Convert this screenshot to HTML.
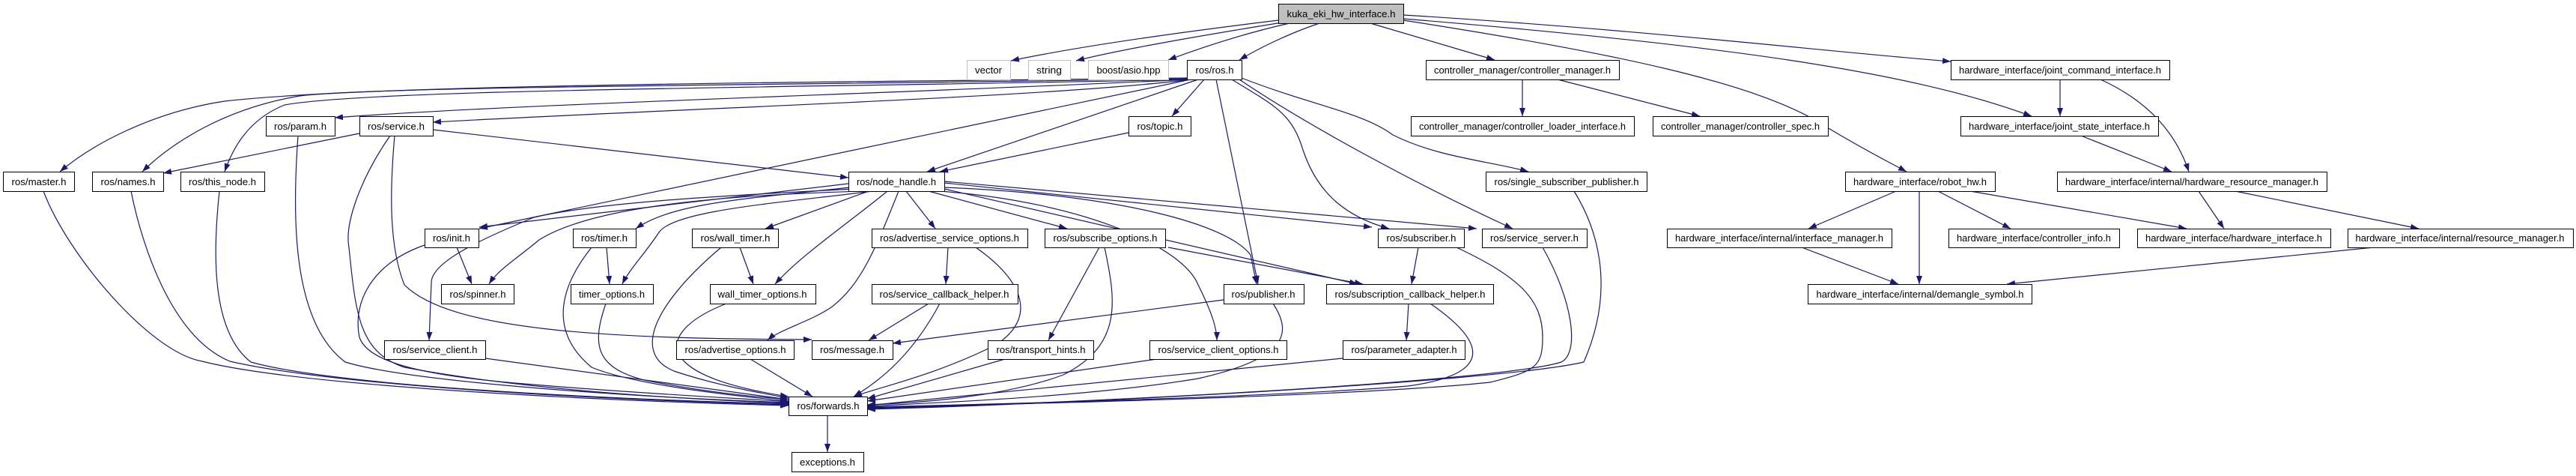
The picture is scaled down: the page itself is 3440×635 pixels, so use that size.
<!DOCTYPE html>
<html><head><meta charset="utf-8"><style>
html,body{margin:0;padding:0;background:#fff;width:3440px;height:635px;overflow:hidden}
text{font-family:"Liberation Sans",sans-serif;font-size:13px;fill:#000}
</style></head><body>
<svg width="3440" height="635" viewBox="0 0 3440 635" xmlns="http://www.w3.org/2000/svg">
<defs><marker id="a" markerUnits="userSpaceOnUse" markerWidth="11" markerHeight="8" refX="11" refY="4" orient="auto"><path d="M0,0 L11,4 L0,8 z" fill="#191970"/></marker></defs>
<g fill="none" stroke="#191970" stroke-width="1.2" marker-end="url(#a)">
<path d="M1707,27 C1600,40 1450,60 1350,81"/>
<path d="M1712,30 C1620,45 1500,65 1437,81"/>
<path d="M1722,31 C1660,45 1600,65 1560,80"/>
<path d="M1762,31 C1720,45 1680,65 1655,80"/>
<path d="M1830,31 L1996,80"/>
<path d="M1874,20 C2200,40 2450,70 2605,82"/>
<path d="M1874,25 C2300,60 2550,95 2713,155"/>
<path d="M1874,27 C2150,70 2350,110 2440,170 C2490,200 2520,215 2546,229"/>
<path d="M1585,104 C1100,110 500,112 300,135 C200,150 120,195 80,229"/>
<path d="M1585,105 C1100,113 500,115 400,128 C300,145 230,190 190,229"/>
<path d="M1587,106 C1100,117 500,118 380,140 C330,160 310,200 300,229"/>
<path d="M1587,106 C1200,125 700,138 447,157"/>
<path d="M1590,106 C1400,130 900,145 578,163"/>
<path d="M1590,106 L640,305"/>
<path d="M1600,106 L1238,229"/>
<path d="M1608,106 L1565,155"/>
<path d="M1624,106 L1680,379"/>
<path d="M1645,106 C1700,140 1725,150 1740,200 C1760,260 1800,290 1855,305"/>
<path d="M1655,106 C1750,170 1900,250 2020,305"/>
<path d="M1658,104 C1750,140 1820,150 1860,180 C1920,210 1990,215 2041,229"/>
<path d="M1133,245 L640,303"/>
<path d="M1135,250 C1000,265 900,270 849,305"/>
<path d="M1160,255 L1022,305"/>
<path d="M1150,255 C1000,260 800,270 720,320 C690,345 665,360 653,379"/>
<path d="M1165,255 C1050,270 900,280 880,310 C860,340 840,360 831,379"/>
<path d="M1185,255 C1130,300 1070,340 1035,379"/>
<path d="M1140,252 C950,262 800,270 713,290 C640,320 576,350 576,377 L573,454"/>
<path d="M1200,255 C1170,330 1150,380 1110,410 C1080,430 1040,440 1025,454"/>
<path d="M1210,255 L1249,305"/>
<path d="M1240,255 L1425,305"/>
<path d="M1255,255 C1450,270 1580,330 1600,380 C1620,420 1625,440 1625,454"/>
<path d="M1261,250 C1500,260 1640,300 1670,340 L1678,379"/>
<path d="M1261,244 L1832,303"/>
<path d="M1261,242 L1972,305"/>
<path d="M1261,252 L1813,379"/>
<path d="M480,178 L218,231"/>
<path d="M578,173 L1133,237"/>
<path d="M521,181 C480,240 460,300 466,330 C475,420 480,470 540,490 C700,520 900,532 1053,538"/>
<path d="M527,181 C520,260 520,330 540,380 C600,440 800,452 1084,453"/>
<path d="M58,255 C90,340 200,470 270,482 C400,515 800,535 1053,541"/>
<path d="M175,255 C190,330 230,450 307,482 C450,515 800,533 1053,540"/>
<path d="M293,255 C285,330 280,440 335,483 C450,515 800,532 1053,539"/>
<path d="M398,181 C390,290 390,430 461,483 C550,510 850,530 1053,537"/>
<path d="M567,327 C500,350 470,400 480,450 C490,480 550,500 700,512 C850,525 1000,532 1053,536"/>
<path d="M790,330 C750,380 730,440 790,490 C850,515 1000,530 1053,535"/>
<path d="M809,405 C790,460 795,490 860,507 C950,525 1020,530 1053,533"/>
<path d="M648,478 L1053,533"/>
<path d="M963,330 C880,400 840,470 900,495 C960,515 1020,525 1053,531"/>
<path d="M970,405 C880,440 860,500 1053,529"/>
<path d="M1002,479 L1085,529"/>
<path d="M1303,330 C1360,370 1390,420 1330,460 C1250,500 1180,515 1140,529"/>
<path d="M1255,405 C1220,470 1180,505 1140,529"/>
<path d="M1342,479 L1158,532"/>
<path d="M1475,330 C1490,400 1500,460 1420,500 C1340,530 1220,538 1158,540"/>
<path d="M1545,479 L1158,535"/>
<path d="M1700,405 C1730,450 1710,480 1600,505 C1450,530 1250,537 1158,542"/>
<path d="M1945,330 C2030,370 2060,400 2060,450 C2060,490 2050,495 1990,510 C1800,530 1300,540 1158,544"/>
<path d="M2060,330 C2100,400 2110,470 2085,483 C2000,510 1400,540 1158,545"/>
<path d="M2102,255 C2130,300 2160,380 2115,483 C2000,510 1400,540 1158,546"/>
<path d="M1910,405 C1990,460 1990,500 1880,515 C1700,530 1300,540 1158,543"/>
<path d="M1793,478 L1158,541"/>
<path d="M1105,554 L1105,603"/>
<path d="M610,330 L630,379"/>
<path d="M810,330 L814,379"/>
<path d="M988,330 L1006,379"/>
<path d="M1266,330 L1263,379"/>
<path d="M1240,405 L1160,454"/>
<path d="M1634,400 L1192,458"/>
<path d="M1468,330 L1400,454"/>
<path d="M1560,330 L1820,379"/>
<path d="M1894,330 L1885,379"/>
<path d="M1881,405 L1878,454"/>
<path d="M1507,177 L1255,229"/>
<path d="M2033,106 L2033,155"/>
<path d="M2080,106 L2270,155"/>
<path d="M2751,106 L2751,155"/>
<path d="M2805,106 C2880,140 2910,190 2923,229"/>
<path d="M2779,181 L2900,229"/>
<path d="M2532,255 L2415,305"/>
<path d="M2563,255 L2563,379"/>
<path d="M2588,255 L2685,305"/>
<path d="M2631,255 L2920,305"/>
<path d="M2936,255 L2970,305"/>
<path d="M2985,255 L3230,305"/>
<path d="M2406,330 L2535,379"/>
<path d="M3170,330 L2680,379"/>
</g>
<g stroke="#000" stroke-width="1" fill="#fff">
<rect x="1707.5" y="5.5" width="167" height="26" fill="#bfbfbf"/>
<rect x="1291.5" y="80.5" width="58" height="26" stroke="#bfbfbf"/>
<rect x="1373.5" y="80.5" width="56" height="26" stroke="#bfbfbf"/>
<rect x="1453.5" y="80.5" width="107" height="26" stroke="#bfbfbf"/>
<rect x="1585.5" y="80.5" width="73" height="26"/>
<rect x="1904.5" y="80.5" width="258" height="26"/>
<rect x="2605.5" y="80.5" width="292" height="26"/>
<rect x="355.5" y="155.5" width="92" height="26"/>
<rect x="480.5" y="155.5" width="98" height="26"/>
<rect x="1507.5" y="155.5" width="83" height="26"/>
<rect x="1884.5" y="155.5" width="298" height="26"/>
<rect x="2207.5" y="155.5" width="234" height="26"/>
<rect x="2618.5" y="155.5" width="264" height="26"/>
<rect x="4.5" y="229.5" width="95" height="26"/>
<rect x="123.5" y="229.5" width="95" height="26"/>
<rect x="241.5" y="229.5" width="112" height="26"/>
<rect x="1133.5" y="229.5" width="128" height="26"/>
<rect x="1984.5" y="229.5" width="215" height="26"/>
<rect x="2464.5" y="229.5" width="200" height="26"/>
<rect x="2747.5" y="229.5" width="360" height="26"/>
<rect x="567.5" y="305.5" width="72" height="25"/>
<rect x="765.5" y="305.5" width="84" height="25"/>
<rect x="924.5" y="305.5" width="115" height="25"/>
<rect x="1164.5" y="305.5" width="208" height="25"/>
<rect x="1395.5" y="305.5" width="161" height="25"/>
<rect x="1840.5" y="305.5" width="115" height="25"/>
<rect x="1979.5" y="305.5" width="140" height="25"/>
<rect x="2226.5" y="305.5" width="300" height="25"/>
<rect x="2602.5" y="305.5" width="228" height="25"/>
<rect x="2854.5" y="305.5" width="258" height="25"/>
<rect x="3135.5" y="305.5" width="301" height="25"/>
<rect x="589.5" y="379.5" width="97" height="26"/>
<rect x="762.5" y="379.5" width="110" height="26"/>
<rect x="948.5" y="379.5" width="141" height="26"/>
<rect x="1164.5" y="379.5" width="195" height="26"/>
<rect x="1634.5" y="379.5" width="107" height="26"/>
<rect x="1771.5" y="379.5" width="223" height="26"/>
<rect x="2414.5" y="379.5" width="299" height="26"/>
<rect x="513.5" y="454.5" width="135" height="25"/>
<rect x="903.5" y="454.5" width="157" height="25"/>
<rect x="1084.5" y="454.5" width="108" height="25"/>
<rect x="1319.5" y="454.5" width="141" height="25"/>
<rect x="1535.5" y="454.5" width="183" height="25"/>
<rect x="1793.5" y="454.5" width="163" height="25"/>
<rect x="1053.5" y="529.5" width="105" height="25"/>
<rect x="1057.5" y="603.5" width="96" height="26"/>
</g>
<g text-anchor="middle">
<text x="1791" y="23" textLength="145" lengthAdjust="spacingAndGlyphs">kuka_eki_hw_interface.h</text>
<text x="1320" y="98" textLength="36" lengthAdjust="spacingAndGlyphs">vector</text>
<text x="1401" y="98" textLength="34" lengthAdjust="spacingAndGlyphs">string</text>
<text x="1507" y="98" textLength="85" lengthAdjust="spacingAndGlyphs">boost/asio.hpp</text>
<text x="1622" y="98" textLength="51" lengthAdjust="spacingAndGlyphs">ros/ros.h</text>
<text x="2033" y="98" textLength="236" lengthAdjust="spacingAndGlyphs">controller_manager/controller_manager.h</text>
<text x="2751" y="98" textLength="270" lengthAdjust="spacingAndGlyphs">hardware_interface/joint_command_interface.h</text>
<text x="401" y="173" textLength="70" lengthAdjust="spacingAndGlyphs">ros/param.h</text>
<text x="529" y="173" textLength="76" lengthAdjust="spacingAndGlyphs">ros/service.h</text>
<text x="1549" y="173" textLength="61" lengthAdjust="spacingAndGlyphs">ros/topic.h</text>
<text x="2033" y="173" textLength="276" lengthAdjust="spacingAndGlyphs">controller_manager/controller_loader_interface.h</text>
<text x="2324" y="173" textLength="212" lengthAdjust="spacingAndGlyphs">controller_manager/controller_spec.h</text>
<text x="2750" y="173" textLength="242" lengthAdjust="spacingAndGlyphs">hardware_interface/joint_state_interface.h</text>
<text x="52" y="247" textLength="73" lengthAdjust="spacingAndGlyphs">ros/master.h</text>
<text x="171" y="247" textLength="73" lengthAdjust="spacingAndGlyphs">ros/names.h</text>
<text x="297" y="247" textLength="90" lengthAdjust="spacingAndGlyphs">ros/this_node.h</text>
<text x="1197" y="247" textLength="106" lengthAdjust="spacingAndGlyphs">ros/node_handle.h</text>
<text x="2092" y="247" textLength="193" lengthAdjust="spacingAndGlyphs">ros/single_subscriber_publisher.h</text>
<text x="2564" y="247" textLength="178" lengthAdjust="spacingAndGlyphs">hardware_interface/robot_hw.h</text>
<text x="2927" y="247" textLength="338" lengthAdjust="spacingAndGlyphs">hardware_interface/internal/hardware_resource_manager.h</text>
<text x="603" y="322" textLength="50" lengthAdjust="spacingAndGlyphs">ros/init.h</text>
<text x="807" y="322" textLength="62" lengthAdjust="spacingAndGlyphs">ros/timer.h</text>
<text x="982" y="322" textLength="93" lengthAdjust="spacingAndGlyphs">ros/wall_timer.h</text>
<text x="1268" y="322" textLength="186" lengthAdjust="spacingAndGlyphs">ros/advertise_service_options.h</text>
<text x="1476" y="322" textLength="139" lengthAdjust="spacingAndGlyphs">ros/subscribe_options.h</text>
<text x="1898" y="322" textLength="93" lengthAdjust="spacingAndGlyphs">ros/subscriber.h</text>
<text x="2049" y="322" textLength="118" lengthAdjust="spacingAndGlyphs">ros/service_server.h</text>
<text x="2376" y="322" textLength="278" lengthAdjust="spacingAndGlyphs">hardware_interface/internal/interface_manager.h</text>
<text x="2716" y="322" textLength="206" lengthAdjust="spacingAndGlyphs">hardware_interface/controller_info.h</text>
<text x="2983" y="322" textLength="236" lengthAdjust="spacingAndGlyphs">hardware_interface/hardware_interface.h</text>
<text x="3285" y="322" textLength="279" lengthAdjust="spacingAndGlyphs">hardware_interface/internal/resource_manager.h</text>
<text x="638" y="397" textLength="75" lengthAdjust="spacingAndGlyphs">ros/spinner.h</text>
<text x="817" y="397" textLength="88" lengthAdjust="spacingAndGlyphs">timer_options.h</text>
<text x="1018" y="397" textLength="119" lengthAdjust="spacingAndGlyphs">wall_timer_options.h</text>
<text x="1261" y="397" textLength="173" lengthAdjust="spacingAndGlyphs">ros/service_callback_helper.h</text>
<text x="1687" y="397" textLength="85" lengthAdjust="spacingAndGlyphs">ros/publisher.h</text>
<text x="1883" y="397" textLength="201" lengthAdjust="spacingAndGlyphs">ros/subscription_callback_helper.h</text>
<text x="2564" y="397" textLength="277" lengthAdjust="spacingAndGlyphs">hardware_interface/internal/demangle_symbol.h</text>
<text x="581" y="471" textLength="113" lengthAdjust="spacingAndGlyphs">ros/service_client.h</text>
<text x="982" y="471" textLength="135" lengthAdjust="spacingAndGlyphs">ros/advertise_options.h</text>
<text x="1138" y="471" textLength="86" lengthAdjust="spacingAndGlyphs">ros/message.h</text>
<text x="1390" y="471" textLength="119" lengthAdjust="spacingAndGlyphs">ros/transport_hints.h</text>
<text x="1627" y="471" textLength="161" lengthAdjust="spacingAndGlyphs">ros/service_client_options.h</text>
<text x="1875" y="471" textLength="141" lengthAdjust="spacingAndGlyphs">ros/parameter_adapter.h</text>
<text x="1106" y="546" textLength="83" lengthAdjust="spacingAndGlyphs">ros/forwards.h</text>
<text x="1105" y="621" textLength="74" lengthAdjust="spacingAndGlyphs">exceptions.h</text>
</g>
</svg>
</body></html>
